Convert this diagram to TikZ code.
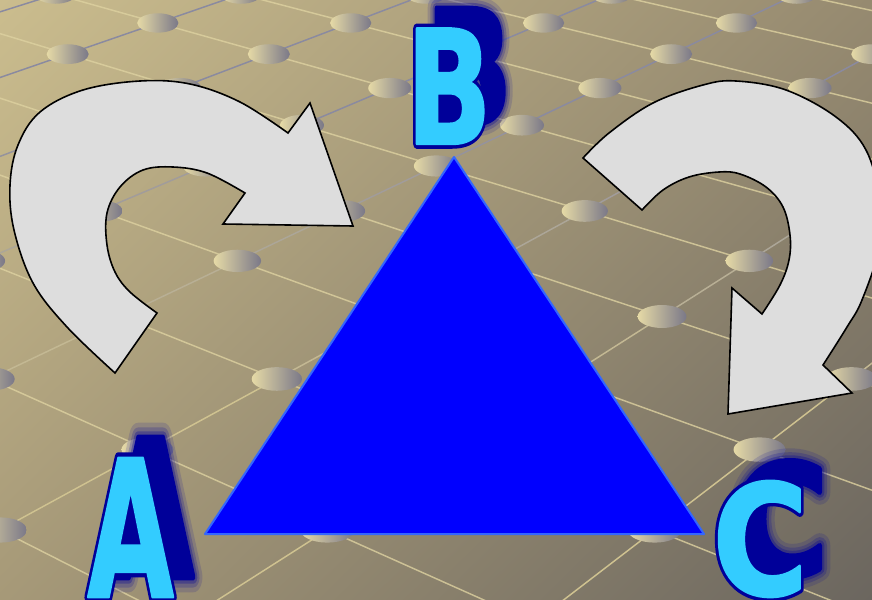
\documentclass[tikz,border=0pt]{standalone}
\usepackage{fontspec}
\setmainfont{DejaVu Sans}
\usepackage{graphicx}
\usepackage{tikz}
\usetikzlibrary{calc, shadings}
\definecolor{bgTL}{HTML}{CBBD8E}
\definecolor{bgTR}{HTML}{968A70}
\definecolor{bgBL}{HTML}{A69978}
\definecolor{bgBR}{HTML}{6B665F}
\definecolor{studLight}{HTML}{E6DAA6}
\definecolor{studDark}{HTML}{7A7888}
\definecolor{gridUp}{HTML}{8A8AA0}
\definecolor{gridLow}{HTML}{CFC290}
\definecolor{gridDown}{HTML}{DDD1A0}
\definecolor{letterFill}{HTML}{33CCFF}
\definecolor{letterDark}{HTML}{000099}
\definecolor{triFill}{HTML}{0000FF}
\definecolor{triEdge}{HTML}{3366FF}
\definecolor{arrowFill}{HTML}{DDDDDD}

% floor grid point (i,j) -> \gx,\gy
\newcommand{\gridxy}[2]{%
  \pgfmathsetmacro\gw{1-0.04685*((#1)+(#2))}%
  \pgfmathsetmacro\gx{(114*(#1)-106*(#2)+522)/\gw}%
  \pgfmathsetmacro\gy{(33*((#1)+(#2))+125.2)/\gw}}

% glyph filled and stroked: width, stroke rgb, text
\newcommand{\rimtext}[3]{\special{pdf:literal direct 2 Tr #1 w #2 RG 1 j}#3\special{pdf:literal direct 0 Tr}}

% name, x, y, hscale, vscale, letter
\newcommand{\drawletter}[6]{%
  \foreach \sw/\op [count=\n] in {16/0.14, 11/0.2, 7/0.3} {
    \node[letter, text=letterDark, opacity=\op] (#1-blur\n) at ($(#2,#3)+(20,-20)$) {\scalebox{#4}[#5]{\rimtext{\sw}{0 0 0.6}{#6}}};
  }
  \node[letter, text=letterDark] (#1-shadow) at ($(#2,#3)+(20,-20)$) {\scalebox{#4}[#5]{\rimtext{3.5}{0 0 0.6}{#6}}};
  \node[letter, text=letterDark] (#1-rim) at (#2,#3) {\scalebox{#4}[#5]{\rimtext{6}{0 0 0.6}{#6}}};
  \node[letter, text=letterFill] (#1) at (#2,#3) {\scalebox{#4}[#5]{\rimtext{1.5}{0.2 0.8 1}{#6}}};
}

\begin{document}
\begin{tikzpicture}[x=0.75pt, y=-0.75pt,
    gridline/.style={line width=1.1pt, line cap=round},
    stud/.style={left color=studLight, right color=studDark},
    tri/.style={fill=triFill, draw=triEdge, line width=1.5pt, line join=round},
    bigarrow/.style={fill=arrowFill, draw=black, line width=1.2pt, line join=miter},
    letter/.style={font=\fontsize{100}{100}\selectfont\bfseries, inner sep=0pt, anchor=base west}]
  \useasboundingbox (0,0) rectangle (872,600);
  \clip (0,0) rectangle (872,600);
  \shade[upper left=bgTL, upper right=bgTR, lower left=bgBL, lower right=bgBR] (0,0) rectangle (872,600);

  % floor lines
  \foreach \i in {-12,...,12} {
    \foreach \k in {-6,...,9} {
      \pgfmathtruncatemacro\ja{\k-\i}
      \pgfmathtruncatemacro\jb{\k+1-\i}
      \gridxy{\i}{\ja}\let\xa\gx\let\ya\gy
      \gridxy{\i}{\jb}
      \pgfmathtruncatemacro\pct{min(100,max(0,(\k+1)*100/6))}
      \draw[gridline, draw=gridLow!\pct!gridUp] (\xa,\ya) -- (\gx,\gy);
    }
  }
  \foreach \j in {-12,...,12} {
    \pgfmathtruncatemacro\ia{-6-\j}
    \pgfmathtruncatemacro\ib{10-\j}
    \gridxy{\ia}{\j}\let\xa\gx\let\ya\gy
    \gridxy{\ib}{\j}
    \draw[gridline, draw=gridDown, opacity=0.8] (\xa,\ya) -- (\gx,\gy);
  }

  % studs
  \foreach \i in {-10,...,10} {
    \foreach \j in {-10,...,10} {
      \pgfmathtruncatemacro\s{\i+\j}
      \ifnum\s>-6 \ifnum\s<9
        \gridxy{\i}{\j}
        \pgfmathsetmacro\rx{22/sqrt(\gw)}
        \pgfmathsetmacro\ry{0.47*\rx}
        \ifdim\gx pt>-40pt \ifdim\gx pt<912pt
          \shade[stud] (\gx,\gy) ellipse [x radius=\rx, y radius=\ry];
        \fi\fi
      \fi\fi
    }
  }

  % curved arrows
  \filldraw[bigarrow] plot[smooth, tension=0.6] coordinates {(115,373) (67,327) (33,283) (14,230) (10,185) (18,145) (40,112) (83,90) (140,81) (190,84) (240,102) (288,133)}
    -- (310,103) -- (353,226) -- (223,224)
    -- plot[smooth, tension=0.6] coordinates {(245,193) (207,173) (173,167) (143,170) (120,187) (107,213) (107,245) (115,272) (130,292) (157,313)}
    -- cycle;
  \filldraw[bigarrow] plot[smooth, tension=0.6] coordinates {(583,158) (609,133) (653,103) (703,85) (736,81) (786,90) (836,117) (866,150) (880,200) (880,245) (862,300) (847,327) (823,365)}
    -- (852,393) -- (728,414) -- (732,288)
    -- plot[smooth, tension=0.6] coordinates {(762,314) (780,285) (789,260) (790,235) (783,207) (766,187) (740,174) (719,172) (689,177) (663,190) (642,210)}
    -- cycle;

  % triangle
  \coordinate (apex) at (454,157);
  \coordinate (baseL) at (205,534);
  \coordinate (baseR) at (704,534);
  \filldraw[tri] (apex) -- (baseL) -- (baseR) -- cycle;

  % letters
  \drawletter{A}{87}{597}{0.84}{1.43}{A}
  \drawletter{B}{406}{144}{0.84}{1.19}{B}
  \drawletter{C}{712}{595}{0.98}{1.155}{C}
\end{tikzpicture}
\end{document}
